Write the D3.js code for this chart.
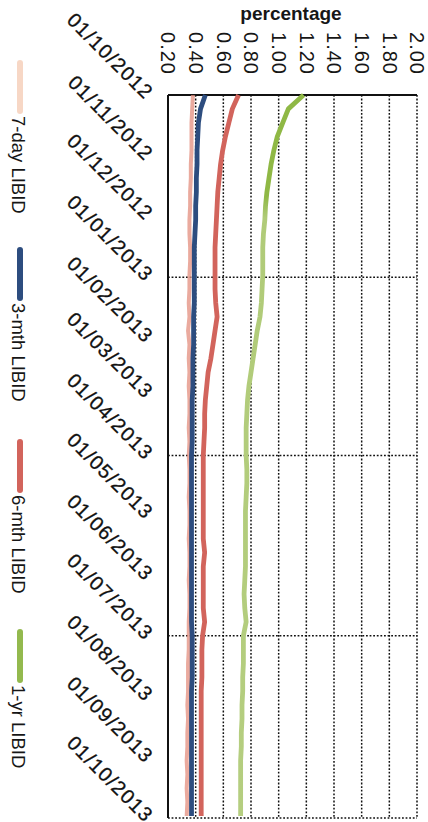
<!DOCTYPE html>
<html>
<head>
<meta charset="utf-8">
<script src="https://cdn.jsdelivr.net/npm/d3@7"></script>
<title>LIBID</title>
<style>
body { margin: 0; background: #fff; }
text { font-family: "Liberation Sans", Arial, sans-serif; fill: #161616; }
</style>
</head>
<body>
<script>

// weekly readings, Oct 2012 - Sep 2013
var weeks = ["2012-10-01","2012-10-08","2012-10-15","2012-10-22","2012-10-29",
  "2012-11-05","2012-11-12","2012-11-19","2012-11-26",
  "2012-12-03","2012-12-10","2012-12-17","2012-12-24","2012-12-31",
  "2013-01-07","2013-01-14","2013-01-21","2013-01-28",
  "2013-02-04","2013-02-11","2013-02-18","2013-02-25",
  "2013-03-04","2013-03-11","2013-03-18","2013-03-25",
  "2013-04-01","2013-04-08","2013-04-15","2013-04-22","2013-04-29",
  "2013-05-06","2013-05-13","2013-05-20","2013-05-27",
  "2013-06-03","2013-06-10","2013-06-17","2013-06-24",
  "2013-07-01","2013-07-08","2013-07-15","2013-07-22","2013-07-29",
  "2013-08-05","2013-08-12","2013-08-19","2013-08-26",
  "2013-09-02","2013-09-09","2013-09-16","2013-09-23","2013-09-30"];

var day7 = [0.38,0.375,0.37,0.37,0.37,0.365,0.365,0.36,0.36,0.355,0.355,0.36,0.36,0.355,0.355,0.35,0.355,0.345,0.355,0.35,0.355,0.35,0.355,0.355,0.35,
  0.355,0.35,0.355,0.355,0.35,0.355,0.355,0.35,0.355,0.355,0.35,0.355,0.355,0.35,
  0.35,0.35,0.345,0.345,0.345,0.34,0.345,0.34,0.34,0.335,0.34,0.335,0.34,0.335];

var mth3 = [0.47,0.435,0.42,0.415,0.41,0.41,0.405,0.405,0.40,0.40,0.395,0.39,0.39,0.39,0.39,0.39,0.385,0.385,0.385,0.38,0.38,0.38,0.375,0.375,0.375,0.375,
  0.37,0.37,0.37,0.37,0.37,0.37,0.37,0.37,0.37,0.37,0.37,0.37,0.37,
  0.375,0.375,0.375,0.375,
  0.37,0.37,0.37,0.37,0.37,0.37,0.37,0.37,0.37,0.37];

var mth6 = [0.71,0.665,0.64,0.615,0.595,0.58,0.57,0.56,0.555,0.55,0.545,0.54,0.54,0.54,0.54,0.545,0.555,0.54,0.525,0.51,0.49,0.48,0.47,0.465,0.465,0.46,
  0.455,0.455,0.455,0.455,0.455,0.455,0.455,0.465,0.455,0.455,0.455,0.455,0.465,0.45,
  0.445,0.445,0.445,
  0.44,0.44,0.44,0.44,0.44,0.44,0.44,0.44,0.44,0.44];

var yr1 = [1.18,1.07,1.03,0.99,0.965,0.945,0.93,0.915,0.905,0.90,0.89,0.885,0.885,0.885,0.88,0.875,0.865,0.845,0.83,0.815,0.80,0.785,0.775,0.77,0.765,0.765,
  0.765,0.77,0.77,0.765,0.76,0.76,0.76,0.76,0.76,0.755,0.75,0.755,0.765,
  0.745,0.745,0.745,0.74,0.74,0.735,0.735,0.73,0.73,0.725,0.725,0.725,0.725,0.725];

var dateTicks = ["01/10/2012","01/11/2012","01/12/2012","01/01/2013","01/02/2013","01/03/2013",
  "01/04/2013","01/05/2013","01/06/2013","01/07/2013","01/08/2013","01/09/2013","01/10/2013"];
var gridDates = ["01/01/2013","01/04/2013","01/07/2013","01/10/2013"];
var valueTicks = [0.20,0.40,0.60,0.80,1.00,1.20,1.40,1.60,1.80,2.00];

var seriesNames = ["7-day LIBID","3-mth LIBID","6-mth LIBID","1-yr LIBID"];
var seriesValues = [day7, mth3, mth6, yr1];
var seriesColors = ["#e38d7e","#2d4d7f","#d2645c","url(#greenFade)"];
var legendColors = ["#f3c6ad","#2d4d7f","#d2645c","#93b94e"];

var width = 428,
    height = 822;

var parseDay = d3.timeParse("%d/%m/%Y"),
    parseIso = d3.timeParse("%Y-%m-%d");

var svg = d3.select("body")
  .append("svg")
  .attr("width", width)
  .attr("height", height);

var grad = svg.append("defs").append("linearGradient")
  .attr("id", "greenFade")
  .attr("gradientUnits", "userSpaceOnUse")
  .attr("x1", 0).attr("y1", 95).attr("x2", 0).attr("y2", 818);
grad.append("stop").attr("offset", "0").attr("stop-color", "#8fb845");
grad.append("stop").attr("offset", "0.14").attr("stop-color", "#8fb845");
grad.append("stop").attr("offset", "0.17").attr("stop-color", "#b0cb78");
grad.append("stop").attr("offset", "1").attr("stop-color", "#b5ce80");

// chart is drawn turned a quarter clockwise: values run left->right, dates top->bottom
var x = d3.scaleLinear().domain([0.2, 2.0]).range([168, 417]);
var y = d3.scaleTime()
  .domain([parseDay("01/10/2012"), parseDay("01/10/2013")])
  .range([95, 818]);

// grid
svg.append("g").selectAll("line")
  .data(valueTicks.slice(1))
  .enter().append("line")
  .attr("x1", function(d) { return x(d); })
  .attr("x2", function(d) { return x(d); })
  .attr("y1", y.range()[0])
  .attr("y2", y.range()[1])
  .attr("stroke", "#111")
  .attr("stroke-width", 1.5)
  .attr("stroke-dasharray", "1.8,1.8");

svg.append("g").selectAll("line")
  .data(gridDates)
  .enter().append("line")
  .attr("x1", x.range()[0])
  .attr("x2", x.range()[1])
  .attr("y1", function(d) { return y(parseDay(d)); })
  .attr("y2", function(d) { return y(parseDay(d)); })
  .attr("stroke", "#111")
  .attr("stroke-width", 1.5)
  .attr("stroke-dasharray", "1.8,1.8");

svg.append("line")
  .attr("x1", x.range()[0]).attr("x2", x.range()[1])
  .attr("y1", y.range()[0]).attr("y2", y.range()[0])
  .attr("stroke", "#111").attr("stroke-width", 2);

svg.append("line")
  .attr("x1", x.range()[0]).attr("x2", x.range()[0])
  .attr("y1", y.range()[0]).attr("y2", y.range()[1])
  .attr("stroke", "#111").attr("stroke-width", 2);

// series
var line = d3.line()
  .x(function(d) { return x(d.v); })
  .y(function(d) { return y(d.date); });

seriesValues.forEach(function(vals, i) {
  var pts = vals.map(function(v, j) { return { date: parseIso(weeks[j]), v: v }; });
  svg.append("path")
    .datum(pts)
    .attr("d", line)
    .attr("fill", "none")
    .attr("stroke", seriesColors[i])
    .attr("stroke-width", i == 0 ? 4 : 4.8)
    .attr("stroke-opacity", i == 0 ? 0.75 : 1)
    .attr("stroke-linejoin", "round");
});

// value axis along the top
var xAxis = svg.append("g")
  .attr("transform", "translate(0," + y.range()[0] + ")")
  .call(d3.axisTop(x).tickValues(valueTicks).tickFormat(d3.format(".2f")).tickSize(0));
xAxis.select(".domain").remove();
xAxis.selectAll("text")
  .attr("x", 0).attr("y", 0).attr("dy", "0.36em")
  .attr("transform", "translate(0,-20) rotate(90)")
  .style("text-anchor", "end")
  .style("font-size", "20px")
  .style("letter-spacing", "1px")
  .style("font-family", "Liberation Sans, Arial, sans-serif")
  .style("fill", "#161616");

svg.append("text")
  .attr("x", 291)
  .attr("y", 20)
  .attr("text-anchor", "middle")
  .style("font-size", "19px")
  .style("font-weight", "bold")
  .text("percentage");

// date axis on the left
var yAxis = svg.append("g")
  .attr("transform", "translate(150,0)")
  .call(d3.axisLeft(y).tickValues(dateTicks.map(parseDay)).tickFormat(d3.timeFormat("%d/%m/%Y")).tickSize(0));
yAxis.select(".domain").remove();
yAxis.selectAll("text")
  .attr("x", 0).attr("y", 0).attr("dy", "0.36em")
  .attr("transform", "rotate(45)")
  .style("text-anchor", "end")
  .style("font-size", "20px")
  .style("letter-spacing", "1.2px")
  .style("font-family", "Liberation Sans, Arial, sans-serif")
  .style("fill", "#111")
  .style("stroke", "#111")
  .style("stroke-width", "0.3px");

// legend down the left edge
var legendStart = [63, 250, 442, 632];
var legend = svg.append("g").selectAll("g")
  .data(seriesNames)
  .enter().append("g")
  .attr("transform", function(d, i) { return "translate(20," + legendStart[i] + ")"; });

legend.append("line")
  .attr("x1", 0).attr("x2", 0)
  .attr("y1", 0).attr("y2", 48)
  .attr("stroke", function(d, i) { return legendColors[i]; })
  .attr("stroke-width", 6)
  .attr("stroke-opacity", function(d, i) { return i == 0 ? 0.7 : 1; })
  .attr("stroke-linecap", "round");

legend.append("text")
  .attr("transform", "translate(-1,53) rotate(90)")
  .attr("dy", "0.36em")
  .style("font-size", "18.5px")
  .text(function(d) { return d; });

</script>
</body>
</html>
